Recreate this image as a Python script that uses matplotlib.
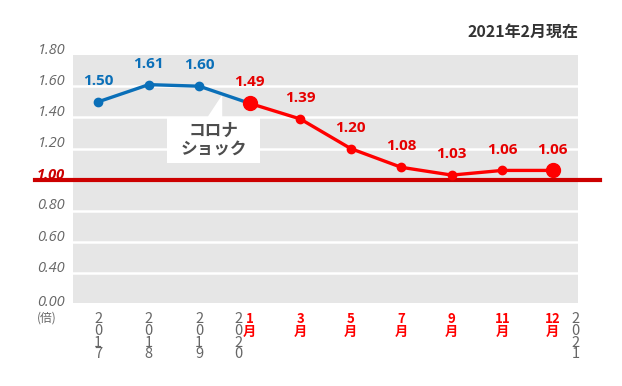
import matplotlib
matplotlib.use("Agg")
import matplotlib.pyplot as plt
from matplotlib.patches import Rectangle, Polygon
from matplotlib.transforms import offset_copy

plt.rcParams['font.family'] = ['Noto Sans CJK JP', 'DejaVu Sans']

# データ
ratios = [1.50, 1.61, 1.60, 1.49, 1.39, 1.20, 1.08, 1.03, 1.06, 1.06]
year_labels = ['2017', '2018', '2019']
month_labels = ['1', '3', '5', '7', '9', '11', '12']
ytick_vals = [1.80, 1.60, 1.40, 1.20, 1.00, 0.80, 0.60, 0.40]
title = '2021年2月現在'
callout = 'コロナ\nショック'

BLUE = '#0a6fb8'
RED = '#ff0000'
DARKRED = '#cc0000'
GRAY_BG = '#e6e6e6'
TXT = '#666666'
LATIN = ['Open Sans', 'DejaVu Sans']

fig = plt.figure(figsize=(6.22, 3.86), dpi=100)
ax = fig.add_axes([73 / 622, 1 - 303 / 386, 505 / 622, 248 / 386])
ax.set_facecolor(GRAY_BG)
for s in ax.spines.values():
    s.set_visible(False)
ax.set_xlim(-0.5, 9.5)
ax.set_ylim(0.21, 1.80)
ax.set_xticks([])
ax.set_yticks([])

# 白いグリッド線
for v in ytick_vals[1:]:
    if v != 1.00:
        ax.axhline(v, color='white', lw=1.8, zorder=1)

# 1.00 の赤線
ax.axhline(1.00, xmin=-38 / 505, xmax=1 + 22 / 505, color=DARKRED, lw=3.0,
           clip_on=False, zorder=2)

# y軸ラベル
xlab = -0.5 - 8 / 50.5
lab_tr = offset_copy(ax.transData, fig=fig, x=0, y=5, units='dots')
for v in ytick_vals:
    if v == 1.00:
        ax.text(xlab, v, '1.00', transform=lab_tr, ha='right', va='center',
                fontsize=10.5, style='italic', fontweight='bold', color=DARKRED,
                family=LATIN, clip_on=False)
    else:
        ax.text(xlab, v, f'{v:.2f}', transform=lab_tr, ha='right', va='center',
                fontsize=10.5, style='italic', color=TXT, family=LATIN, clip_on=False)
ax.text(xlab, 0.215, '0.00', ha='right', va='center', fontsize=10.5,
        style='italic', color=TXT, family=LATIN, clip_on=False)
ax.text(-0.5 - 16 / 50.5, 0.115, '(倍)', ha='right', va='center', fontsize=8.5,
        color=TXT, clip_on=False)

# 折れ線
xs = list(range(len(ratios)))
ax.plot(xs[:4], ratios[:4], color=BLUE, lw=2.4, marker='o', ms=6, zorder=4)
ax.plot(xs[3:], ratios[3:], color=RED, lw=2.4, marker='o', ms=6, zorder=5)
ax.plot([xs[3], xs[-1]], [ratios[3], ratios[-1]], ls='none', marker='o', ms=10,
        color=RED, zorder=6)

# データラベル
for i, v in enumerate(ratios):
    c = BLUE if i < 3 else '#e60000'
    ax.annotate(f'{v:.2f}', (i, v), xytext=(0, 10), textcoords='offset points',
                ha='center', va='bottom', fontsize=11, fontweight='bold', color=c,
                family=LATIN)

# x軸ラベル
ybase = 0.21 - 9 / 156.0
for i, y in enumerate(year_labels):
    ax.text(i, ybase, '\n'.join(y), ha='center', va='top', fontsize=10.5, color=TXT,
            linespacing=0.8, clip_on=False)
ax.text(2.77, ybase, '\n'.join('2020'), ha='center', va='top', fontsize=10.5, color=TXT,
        linespacing=0.8, clip_on=False)
ax.text(9.45, ybase, '\n'.join('2021'), ha='center', va='top', fontsize=10.5, color=TXT,
        linespacing=0.8, clip_on=False)
for i, m in enumerate(month_labels):
    ax.text(3 + i, ybase, m + '\n月', ha='center', va='top', fontsize=9.5,
            fontweight='bold', color=RED, linespacing=0.9, clip_on=False)

# コロナショックの吹き出し
ax.add_patch(Rectangle((1.366, 1.109), 1.844, 0.288, facecolor='white',
                       edgecolor='none', zorder=3))
ax.add_patch(Polygon([(2.16, 1.40), (2.455, 1.545), (2.455, 1.40)],
                     closed=True, facecolor='white', edgecolor='none', zorder=3))
ax.text(2.29, 1.253, callout, ha='center', va='center', fontsize=12,
        fontweight='bold', color='#4d4d4d', linespacing=1.05, zorder=4)

fig.text(578 / 622, 1 - 32 / 386, title, ha='right', va='center', fontsize=11.5,
         fontweight='bold', color='#333333')

fig.savefig('out.png', dpi=100, facecolor='white')
